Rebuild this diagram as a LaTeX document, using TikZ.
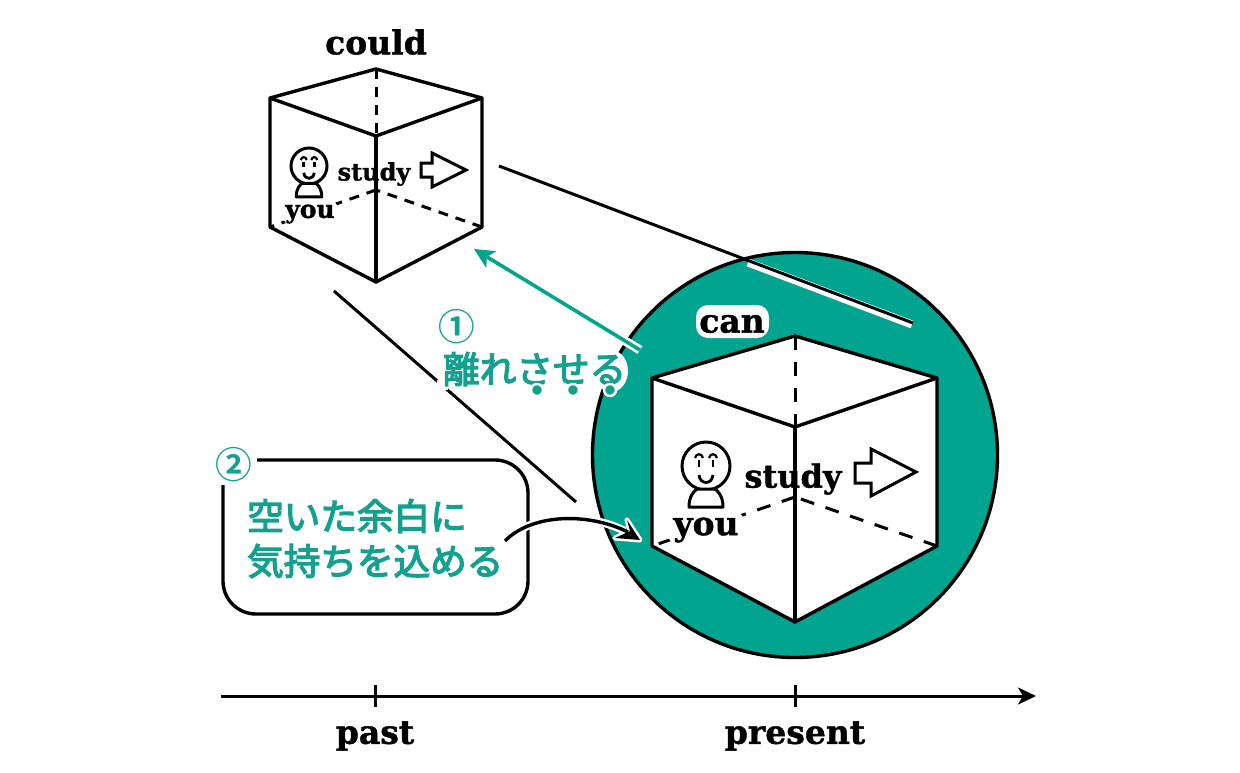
\documentclass[tikz,border=0pt]{standalone}
\usepackage{fontspec}
\usetikzlibrary{arrows.meta,calc}
\newfontfamily\labfont{DejaVu Serif Bold}[FakeBold=1.2]
\newfontfamily\cjkfont{Noto Sans CJK JP}[FakeBold=3.5]
\newfontfamily\cjkbold{Noto Sans CJK JP Bold}
\definecolor{tealc}{HTML}{00A48F}
\definecolor{tealt}{HTML}{14A08E}
\tikzset{
  edge/.style={line width=3.4pt,line join=round,black},
  hiddenbig/.style={line width=3pt,black,dash pattern=on 14pt off 12pt},
  hiddensmall/.style={line width=3pt,black,dash pattern=on 10pt off 8pt},
  thin edge/.style={line width=3pt,black},
  lab/.style={inner sep=0pt,font=\labfont\fontsize{33}{36}\selectfont,black},
  jp/.style={inner sep=0pt,font=\cjkfont\fontsize{36.6}{50}\selectfont,text=tealt,align=left},
  jpnum/.style={inner sep=0pt,font=\cjkbold\fontsize{36.6}{50}\selectfont,text=tealt},
  blob/.style={white,fill=white,rounded corners=12pt},
  hollow/.style={line width=3pt,black,fill=white,line join=miter},
  person/.pic={
    \draw[line width=3pt,fill=white] (0,0) circle (24);
    \draw[line width=2.2pt] (-11,-8) .. controls (-10,-13) and (-4,-13) .. (-3,-8);
    \draw[line width=2.2pt] (3,-8) .. controls (4,-13) and (10,-13) .. (11,-8);
    \draw[line width=2.6pt] (-7,-6) -- (-7,1);
    \draw[line width=2.6pt] (7,-6) -- (7,1);
    \draw[line width=2.8pt] (-7,9) .. controls (-6,19) and (6,19) .. (7,9);
    \draw[line width=3pt,fill=white,line join=round] (-17,41) .. controls (-17,30) and (-12,25) .. (-9,23) -- (9,23) .. controls (12,25) and (17,30) .. (17,41) -- cycle;
  }
}
\begin{document}
\begin{tikzpicture}[x=1pt,y=-1pt]
\useasboundingbox (0,0) rectangle (1240,772);
\fill[white] (0,0) rectangle (1240,772);

% magnifier circle
\node[circle,draw=black,line width=3.4pt,fill=tealc,minimum size=405pt,inner sep=0pt] (lens) at (795,455) {};

% projection lines
\coordinate (pa) at (499,166); \coordinate (pb) at (913,323);
\coordinate (qa) at (334,291); \coordinate (qb) at (576,502);
\draw[white,line width=8pt] (748,262.5) -- (912,324.5);
\draw[thin edge] (pa) -- (pb);
\draw[thin edge] (qa) -- (qb);

% small cube
\coordinate (st) at (376,69);  \coordinate (sl) at (270,98);  \coordinate (sr) at (482,98);
\coordinate (sf) at (376,136); \coordinate (sb) at (376,282); \coordinate (slb) at (270,227);
\coordinate (srb) at (482,227); \coordinate (sc) at (376,190);
\draw[hiddensmall] (st) -- (sf);
\draw[hiddensmall] (sc) -- (slb);
\draw[hiddensmall] (srb) -- (sc);
\draw[edge] (st) -- (sl) -- (slb) -- (sb) -- (srb) -- (sr) -- cycle;
\draw[edge] (sl) -- (sf) -- (sr);
\draw[edge] (sf) -- (sb);

% big cube
\coordinate (bt) at (795,336); \coordinate (bl) at (652,378); \coordinate (br) at (937,378);
\coordinate (bf) at (795,427); \coordinate (bb) at (795,622); \coordinate (blb) at (652,546);
\coordinate (brb) at (937,546); \coordinate (bc) at (795,497);
\fill[white] (bt) -- (bl) -- (blb) -- (bb) -- (brb) -- (br) -- cycle;
\draw[hiddenbig] (bt) -- (bf);
\draw[hiddenbig] (bc) -- (blb);
\draw[hiddenbig] (brb) -- (bc);
\draw[edge] (bt) -- (bl) -- (blb) -- (bb) -- (brb) -- (br) -- cycle;
\draw[edge] (bl) -- (bf) -- (br);
\draw[edge] (bf) -- (bb);

% white grounds under the labels
\fill[blob] (696,305) rectangle (769,338);
\fill[blob] (282,198) rectangle (338,226);
\fill[blob] (668,510) rectangle (744,546);

% persons
\pic[scale=.75] at (309,166) {person};
\pic at (706,466) {person};

% hollow arrows
\draw[hollow] (421,163) -- (432,163) -- (432,153) -- (466,170) -- (432,187) -- (432,177) -- (421,177) -- cycle;
\draw[hollow] (855,463) -- (871,463) -- (871,449) -- (916,472) -- (871,496) -- (871,483) -- (855,483) -- cycle;

% labels on cubes
\node[lab] (could) at (376,42) {could};
\node[lab] (can) at (732,324) {can};
\node[lab,font=\labfont\fontsize{24}{26}\selectfont] (study1) at (374,174) {study};
\node[lab,font=\labfont\fontsize{25}{26}\selectfont] (you1) at (310,214) {you};
\node[lab,font=\labfont\fontsize{32}{34}\selectfont] (study2) at (793,479) {study};
\node[lab] (you2) at (706,530) {you};

% teal arrow
\coordinate (ta) at (640,350); \coordinate (tb) at (474,249);
\draw[white,line width=9pt] (ta) -- ($(ta)!32pt!(tb)$);
\draw[tealc,line width=3.6pt,-{Stealth[length=20pt,width=19pt,inset=5pt]}] (ta) -- (tb);

% label 1
\node[jpnum] (n1) at (457,327) {①};
\fill[white] (437,380) rectangle (448,390);
\fill[white] (611,371) ellipse [x radius=17,y radius=21];
\node[jp,anchor=west] (hanare) at (443,369) {離れさせる};
\foreach \x/\nm in {537/d1,573/d2,610/d3}
  \node[circle,fill=tealt,draw=white,line width=2.4pt,minimum size=12pt,inner sep=0pt] (\nm) at (\x,390) {};

% box
\draw[edge] (257,460) -- (495,460) arc[start angle=-90,end angle=0,radius=33] -- (528,581)
  arc[start angle=0,end angle=90,radius=33] -- (256,614)
  arc[start angle=90,end angle=180,radius=33] -- (223,485);
\node[jpnum] (n2) at (234,465) {②};
\node[jp,anchor=west] (b1) at (247,516) {空いた余白に};
\node[jp,anchor=west] (b2) at (247,561) {気持ちを込める};

% curved arrow
\coordinate (ca) at (505,541); \coordinate (cb) at (640,540);
\draw[white,line width=8pt] (ca) .. controls (530,515) and (585,511) .. (625,531);
\fill[white,line join=round,draw=white,line width=5pt] (640,540) -- (627,520) -- (630,531) -- (615,538) -- cycle;
\draw[black,line width=3.4pt] (ca) .. controls (530,515) and (585,511) .. (628,532);
\fill[black] (640,540) -- (627,520) -- (630,531) -- (615,538) -- cycle;

% time axis
\coordinate (ax0) at (221,696); \coordinate (ax1) at (1036,696);
\draw[black,line width=3pt,-{Stealth[length=18pt,width=17pt,inset=5pt]}] (ax0) -- (ax1);
\coordinate (t1a) at (375,685); \coordinate (t1b) at (375,707);
\coordinate (t2a) at (795,685); \coordinate (t2b) at (795,707);
\draw[thin edge] (t1a) -- (t1b);
\draw[thin edge] (t2a) -- (t2b);
\node[lab] (past) at (375,736) {past};
\node[lab] (present) at (795,736) {present};
\end{tikzpicture}
\end{document}
